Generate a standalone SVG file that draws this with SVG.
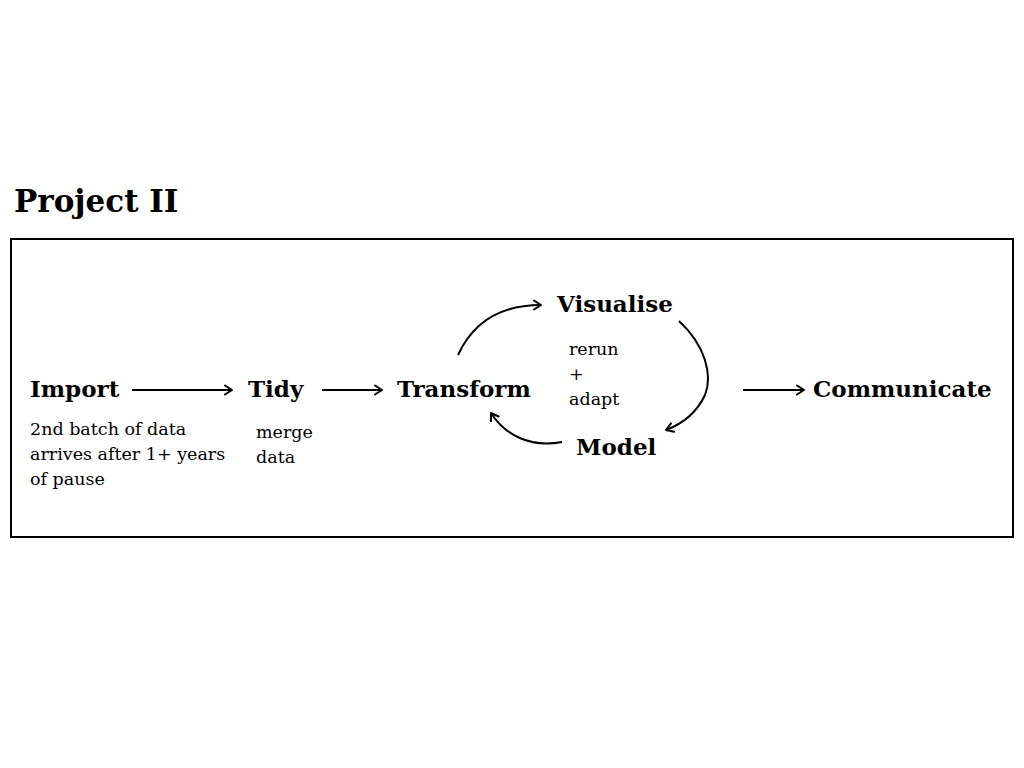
<svg xmlns="http://www.w3.org/2000/svg" width="1024" height="768" viewBox="0 0 1024 768">
<style>
.title{font-family:"DejaVu Serif","Liberation Serif",serif;font-weight:bold;font-size:31px;fill:#000}
.node{font-family:"DejaVu Serif","Liberation Serif",serif;font-weight:bold;font-size:23px;fill:#000}
.note{font-family:"DejaVu Serif","Liberation Serif",serif;font-size:17.5px;fill:#000}
.conn{fill:none;stroke:#000;stroke-width:2;marker-end:url(#arr)}
</style>
<defs>
<marker id="arr" viewBox="0 0 12 12" refX="10" refY="6" markerWidth="12" markerHeight="12" markerUnits="userSpaceOnUse" orient="auto">
<path d="M3,1.5 L10,6 L3,10.5" fill="none" stroke="#000" stroke-width="2" stroke-linecap="round" stroke-linejoin="round"/>
</marker>
</defs>
<rect width="1024" height="768" fill="#fff"/>
<text class="title" x="14" y="212">Project II</text>
<rect x="11" y="239" width="1002" height="298" fill="none" stroke="#000" stroke-width="2"/>
<g id="import"><text class="node" x="30" y="397">Import</text>
<text class="note" x="30" y="435">2nd batch of data</text>
<text class="note" x="30" y="460">arrives after 1+ years</text>
<text class="note" x="30" y="485">of pause</text></g>
<g id="tidy"><text class="node" x="248" y="397">Tidy</text>
<text class="note" x="256" y="438">merge</text>
<text class="note" x="256" y="463">data</text></g>
<g id="transform"><text class="node" x="397" y="397">Transform</text></g>
<g id="visualise"><text class="node" x="557" y="312">Visualise</text></g>
<g id="model"><text class="node" x="576" y="455">Model</text></g>
<g id="communicate"><text class="node" x="813" y="397">Communicate</text></g>
<g id="loop-note"><text class="note" x="569" y="355">rerun</text>
<text class="note" x="569" y="380">+</text>
<text class="note" x="569" y="405">adapt</text></g>
<g id="connectors">
<path class="conn" d="M132,390 L232,390"/>
<path class="conn" d="M322,390 L382,390"/>
<path class="conn" d="M743,390 L804,390"/>
<path class="conn" d="M458,355 C475,318 505,305 541,305"/>
<path class="conn" d="M679,321 C705,345 713,375 705,395 C697,412 682,424 666,430"/>
<path class="conn" d="M562,442 C530,448 505,435 491,413"/>
</g>
</svg>
